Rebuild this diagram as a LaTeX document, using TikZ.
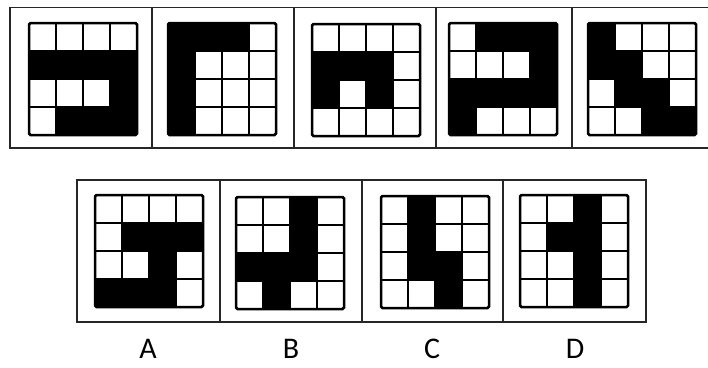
\documentclass[tikz,border=0pt]{standalone}
\usepackage{fontspec}
\setmainfont{Carlito}
\usepackage{tikz}

% one 4x4 grid: #1,#2 top left corner, #3 black cells as col/row
\newcommand{\cellgrid}[3]{%
    \begin{scope}[shift={(#1,#2)}]
        \foreach \cx/\ry in {#3}
            \fill[black] (\cx*27-27,\ry*28-28) rectangle ++(27,28);
        \foreach \i in {1,2,3} {
            \draw[gridline] (\i*27,0) -- (\i*27,112);
            \draw[gridline] (0,\i*28) -- (108,\i*28);
        }
        \draw[gridedge] (0,0) rectangle (108,112);
    \end{scope}}

\begin{document}
\begin{tikzpicture} [
        x=1pt, y=-1pt,
        frame/.style={draw=black!85, line width=1.5pt},
        gridline/.style={draw=black, line width=2pt},
        gridedge/.style={draw=black, line width=2.5pt, rounded corners=1.5pt},
        letter/.style={font=\fontsize{30}{30}\selectfont, inner sep=0pt, anchor=base}
    ]
    \useasboundingbox (0,0) rectangle (708,367);

    % question row, open at the right edge
    \draw[frame] (708,7.5) -- (10,7.5) -- (10,148) -- (708,148);
    \foreach \xd in {152,294,436,572}
        \draw[frame] (\xd,7.5) -- (\xd,148);

    \cellgrid{29}{23}{1/2,2/2,3/2,4/2,4/3,2/4,3/4,4/4}   % 1
    \cellgrid{168}{23}{1/1,2/1,3/1,1/2,1/3,1/4}          % 2
    \cellgrid{312}{24}{1/2,2/2,3/2,1/3,3/3}              % 3
    \cellgrid{449}{23}{2/1,3/1,4/1,4/2,1/3,2/3,3/3,4/3,1/4} % 4
    \cellgrid{588}{23}{1/1,1/2,2/2,2/3,3/3,3/4,4/4}      % 5

    % answer row
    \draw[frame] (77,180) rectangle (646,322);
    \foreach \xd in {220,362,503}
        \draw[frame] (\xd,180) -- (\xd,322);

    \cellgrid{95}{195}{2/2,3/2,4/2,3/3,1/4,2/4,3/4}      % A
    \cellgrid{236}{197}{3/1,3/2,1/3,2/3,3/3,2/4}         % B
    \cellgrid{381}{196}{2/1,2/2,2/3,3/3,3/4}             % C
    \cellgrid{520}{195}{3/1,2/2,3/2,3/3,3/4}             % D

    \node[letter]   (labA)  at (148,358.5)  {A};
    \node[letter]   (labB)  at (291,358.5)  {B};
    \node[letter]   (labC)  at (432,358.5)  {C};
    \node[letter]   (labD)  at (575,358.5)  {D};
\end{tikzpicture}
\end{document}
